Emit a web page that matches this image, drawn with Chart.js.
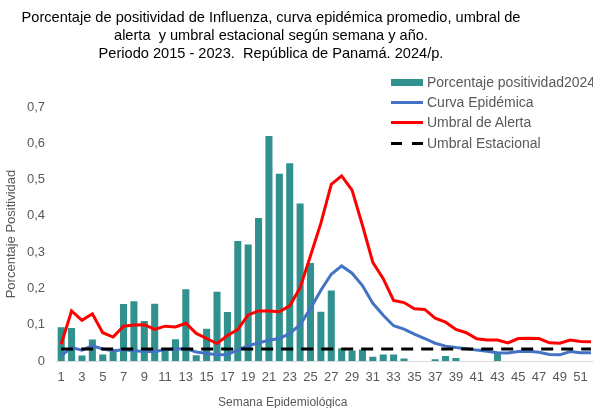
<!DOCTYPE html>
<html>
<head>
<meta charset="utf-8">
<script src="https://cdn.jsdelivr.net/npm/chart.js@4"></script>
<style>
  html, body { margin: 0; padding: 0; background: #fff; overflow: hidden; }
  body { width: 593px; height: 408px; position: relative; font-family: "Liberation Sans", Arial, sans-serif; }
  #wrap { position: absolute; left: 0; top: 0; width: 600px; height: 408px; }
  #title { position: absolute; left: 0; top: 8px; width: 542px; text-align: center; font-size: 14.6px; line-height: 18px; color: #000; }
  #xtitle { position: absolute; left: 218px; top: 395px; font-size: 12px; color: #595959; white-space: nowrap; }
  #legend { position: absolute; left: 391px; top: 72px; font-size: 14px; color: #595959; }
  #legend .row { height: 20.2px; line-height: 20px; white-space: nowrap; position: relative; padding-left: 36px; }
  #legend .sw { position: absolute; left: 0; top: 7px; width: 32px; height: 7px; }
  #legend .ln { position: absolute; left: 0; top: 9px; width: 32px; height: 3px; }
</style>
</head>
<body>
<div id="wrap"><canvas id="myChart" width="600" height="408"></canvas></div>
<div id="title">Porcentaje de positividad de Influenza, curva epidémica promedio, umbral de<br>alerta&nbsp; y umbral estacional según semana y año.<br>Periodo 2015 - 2023.&nbsp; República de Panamá. 2024/p.</div>
<div id="legend">
  <div class="row"><span class="sw" style="background:#31918E"></span>Porcentaje positividad2024</div>
  <div class="row"><span class="ln" style="background:#4472C4"></span>Curva Epidémica</div>
  <div class="row"><span class="ln" style="background:#FF0000"></span>Umbral de Alerta</div>
  <div class="row"><span class="ln" style="background:linear-gradient(90deg,#000 0 11px,transparent 11px 21px,#000 21px 32px)"></span>Umbral Estacional</div>
</div>
<div id="xtitle">Semana Epidemiológica</div>
<script>
// semanas epidemiologicas
var semanas = [1,2,3,4,5,6,7,8,9,10,11,12,13,14,15,16,17,18,19,20,21,22,23,24,25,26,
  27,28,29,30,31,32,33,34,35,36,37,38,39,40,41,42,43,44,45,46,47,48,49,50,51,52];

// Porcentaje positividad 2024 (hasta semana 43)
var positividad2024 = [0.093,0.091,0.015,0.059,0.018,0.025,0.157,0.165,0.110,0.158,0.030,0.060,0.198,
  0.016,0.089,0.191,0.135,0.331,0.321,0.394,0.620,0.516,0.545,0.434,0.270,0.136,0.194,0.035,0.029,
  0.032,0.012,0.018,0.018,0.007,0,0,0.005,0.014,0.008,0,0,0,0.024,
  null,null,null,null,null,null,null,null,null];

var curvaEpidemica = [0.014,0.037,0.030,0.042,0.033,0.028,0.031,0.028,0.026,0.026,0.031,0.033,0.034,
  0.025,0.021,0.017,0.018,0.030,0.042,0.050,0.057,0.062,0.076,0.100,0.145,0.195,0.239,0.262,0.242,
  0.208,0.159,0.126,0.097,0.088,0.074,0.062,0.049,0.041,0.037,0.034,0.030,0.027,0.023,0.022,0.026,
  0.027,0.024,0.018,0.017,0.026,0.023,0.023];

var umbralAlerta = [0.046,0.138,0.112,0.130,0.078,0.066,0.096,0.099,0.100,0.087,0.096,0.094,0.104,
  0.076,0.062,0.048,0.070,0.087,0.127,0.138,0.138,0.136,0.152,0.202,0.290,0.380,0.487,0.510,0.471,
  0.374,0.272,0.227,0.167,0.161,0.144,0.142,0.118,0.107,0.087,0.078,0.061,0.058,0.058,0.050,0.062,
  0.063,0.062,0.050,0.049,0.058,0.054,0.053];

var umbralEstacional = [0.033,0.033,0.033,0.033,0.033,0.033,0.033,0.033,0.033,0.033,0.033,0.033,0.033,
  0.033,0.033,0.033,0.033,0.033,0.033,0.033,0.033,0.033,0.033,0.033,0.033,0.033,0.033,0.033,0.033,
  0.033,0.033,0.033,0.033,0.033,0.033,0.033,0.033,0.033,0.033,0.033,0.033,0.033,0.033,0.033,0.033,
  0.033,0.033,0.033,0.033,0.033,0.033,0.033];

var gris = '#595959';
var fuente = { family: "'Liberation Sans', Arial, sans-serif", size: 13 };

var ctx = document.getElementById("myChart");
var myChart = new Chart(ctx, {
  type: 'bar',
  data: {
    labels: semanas,
    datasets: [
      {
        type: 'line',
        label: 'Umbral Estacional',
        data: umbralEstacional,
        borderColor: '#000000',
        borderWidth: 3,
        borderDash: [12, 8],
        pointRadius: 0,
        fill: false,
        order: 0
      },
      {
        type: 'line',
        label: 'Umbral de Alerta',
        data: umbralAlerta,
        borderColor: '#FF0000',
        borderWidth: 3,
        pointRadius: 0,
        tension: 0,
        fill: false,
        order: 1
      },
      {
        type: 'line',
        label: 'Curva Epidémica',
        data: curvaEpidemica,
        borderColor: '#4472C4',
        borderWidth: 3,
        pointRadius: 0,
        tension: 0,
        fill: false,
        order: 2
      },
      {
        label: 'Porcentaje positividad2024',
        data: positividad2024,
        backgroundColor: '#31918E',
        categoryPercentage: 1,
        barPercentage: 0.68,
        order: 3
      }
    ]
  },
  options: {
    responsive: false,
    animation: false,
    layout: { padding: { top: 107, right: 3, left: 0, bottom: 0 } },
    plugins: { legend: { display: false }, tooltip: { enabled: false } },
    scales: {
      x: {
        grid: { display: false, drawTicks: false },
        border: { display: true, color: '#D9D9D9', width: 1 },
        ticks: {
          autoSkip: false,
          maxRotation: 0,
          padding: 9,
          color: gris,
          font: fuente,
          callback: function (v, i) { return i % 2 === 0 ? semanas[i] : ''; }
        },
        afterFit: function (s) { s.height = 47; }
      },
      y: {
        min: 0,
        max: 0.7,
        grid: { display: false, drawTicks: false },
        border: { display: false },
        ticks: {
          stepSize: 0.1,
          padding: 11,
          color: gris,
          font: fuente,
          callback: function (v) { return v === 0 ? '0' : v.toFixed(1).replace('.', ','); }
        },
        title: {
          display: true,
          text: 'Porcentaje Positividad',
          color: gris,
          font: fuente,
          padding: { top: 4, bottom: 0 }
        },
        afterFit: function (s) { s.width = 56; }
      }
    }
  }
});
</script>
</body>
</html>
